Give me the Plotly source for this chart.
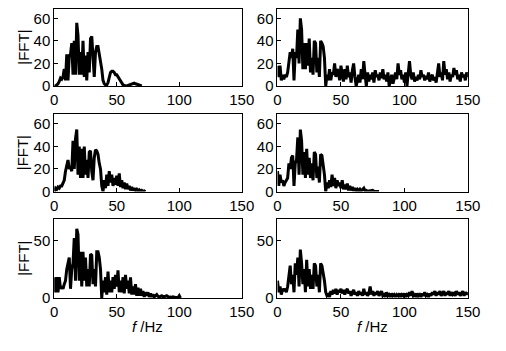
import plotly.graph_objects as go

# Frequency bins (Hz), 1 Hz resolution
FREQ = list(range(151))

# |FFT| spectra (row-major: left, right)
fft_a = [0, 0, 1, 2, 4, 7, 6, 8, 15, 5, 28, 5, 27, 28, 38, 10, 40, 10, 56, 45,
         10, 30, 10, 40, 8, 27, 5, 30, 12, 42, 44, 20, 8, 30, 35, 35, 28, 25, 15, 5,
         2, 1, 1, 3, 8, 12, 13, 13, 12, 10, 10, 8, 6, 4, 2, 1, 0.5, 0.3, 0, 0.5,
         1, 1.5, 2, 2.5, 2.5, 2, 1.5, 1, 0.5, 0, 0]

fft_b = [18, 8, 18, 5, 10, 6, 10, 8, 12, 20, 30, 25, 33, 5, 30, 25, 50, 20, 60, 50,
         15, 38, 15, 38, 18, 42, 12, 25, 10, 40, 38, 12, 25, 8, 40, 38, 35, 25, 0, 10,
         5, 15, 5, 12, 10, 20, 8, 15, 12, 5, 18, 10, 4, 15, 6, 18, 8, 12, 3, 14,
         20, 8, 0, 5, 10, 3, 15, 6, 22, 10, 0, 12, 4, 10, 6, 12, 3, 14, 8, 10,
         5, 12, 7, 15, 6, 10, 4, 12, 0, 5, 10, 2, 8, 12, 6, 20, 10, 14, 6, 10,
         3, 12, 0, 15, 22, 10, 6, 12, 4, 8, 5, 10, 6, 14, 8, 10, 5, 9, 6, 12,
         4, 8, 10, 5, 8, 3, 10, 20, 8, 12, 5, 22, 10, 15, 6, 12, 4, 10, 8, 16,
         10, 14, 6, 10, 4, 12, 8, 10, 5, 12, 8]

fft_c = [0, 3, 2, 4, 3, 5, 5, 8, 10, 18, 25, 28, 20, 22, 18, 45, 20, 47, 55, 15,
         40, 12, 38, 12, 40, 15, 28, 12, 35, 36, 18, 10, 30, 37, 36, 33, 25, 20, 5, 0,
         10, 3, 15, 5, 18, 8, 15, 5, 12, 6, 14, 5, 16, 4, 10, 3, 8, 2, 7, 2,
         5, 1, 4, 1, 3, 1, 2, 0.5, 1.5, 0.3, 1, 0, 0.5, 0]

fft_d = [18, 5, 15, 8, 10, 5, 8, 10, 12, 25, 20, 30, 32, 5, 25, 28, 48, 15, 55, 45,
         15, 35, 12, 38, 15, 30, 12, 25, 10, 35, 33, 12, 22, 8, 33, 32, 25, 15, 0, 8,
         3, 10, 4, 15, 5, 12, 3, 10, 5, 8, 3, 10, 2, 6, 2, 7, 1, 5, 1, 4,
         0.5, 3, 1, 2, 0.5, 2, 0.5, 1.5, 3, 0.5, 1, 0.3, 0.5, 0.3, 0.5, 1, 0.3, 0.3, 0.5, 0.2,
         0]

fft_e = [18, 5, 18, 5, 18, 8, 10, 8, 12, 15, 25, 30, 35, 8, 25, 30, 52, 15, 60, 55,
         15, 40, 10, 40, 15, 35, 10, 25, 10, 38, 37, 12, 25, 10, 40, 40, 35, 25, 0, 15,
         5, 18, 3, 23, 5, 15, 5, 18, 8, 20, 10, 24, 5, 15, 5, 18, 4, 20, 8, 15,
         4, 18, 3, 10, 3, 12, 2, 9, 2, 8, 2, 6, 1, 5, 2, 5, 1, 4, 1, 3,
         1, 2, 3, 1.5, 1, 1.5, 2, 1, 1, 1.5, 2, 1, 0.5, 0.8, 0.5, 1, 0.5, 0.5, 0.5, 0.3,
         2, 0]

fft_f = [15, 5, 10, 3, 8, 6, 8, 5, 10, 18, 28, 12, 20, 5, 30, 20, 35, 10, 42, 30,
         12, 25, 5, 33, 10, 25, 8, 20, 8, 30, 28, 10, 20, 5, 30, 28, 22, 15, 5, 2,
         3, 1, 6, 3, 7, 4, 8, 3, 7, 5, 8, 4, 7, 3, 6, 8, 4, 6, 2, 5,
         7, 3, 5, 2, 6, 3, 5, 2, 8, 3, 5, 2, 4, 10, 3, 6, 2, 5, 3, 6,
         2, 4, 6, 2, 3, 1, 5, 2, 3, 1, 4, 2, 3, 1, 3, 2, 4, 1, 3, 2,
         4, 1, 3, 2, 5, 2, 6, 2, 3, 1, 4, 2, 3, 1, 4, 2, 5, 2, 3, 1,
         4, 2, 5, 3, 6, 2, 5, 3, 6, 2, 4, 6, 2, 5, 3, 6, 2, 5, 3, 4,
         2, 6, 3, 5, 2, 4, 6, 2, 5, 3, 5]

SERIES = [fft_a, fft_b, fft_c, fft_d, fft_e, fft_f]

X_TICKS = [0, 50, 100, 150]
Y_TICKS_TOP = [0, 20, 40, 60]
Y_TICKS_BOTTOM = [0, 50]

W, H = 506, 351
col_px = [(52, 246), (283, 480)]
row_px = [(9, 88), (117, 196), (224, 305)]

FONT = "Liberation Sans, Arial, sans-serif"
FS = 15

fig = go.Figure()
layout = dict(
    width=W, height=H, margin=dict(l=0, r=0, t=0, b=0),
    paper_bgcolor="white", plot_bgcolor="white", showlegend=False,
    font=dict(family=FONT, size=FS, color="black"),
)

annotations = []
for i, y in enumerate(SERIES):
    r, c = divmod(i, 2)
    n = i + 1
    xa = "x" if n == 1 else f"x{n}"
    ya = "y" if n == 1 else f"y{n}"
    fig.add_trace(go.Scatter(
        x=FREQ[:len(y)], y=y, mode="lines",
        line=dict(color="black", width=3, shape="linear"),
        xaxis=xa, yaxis=ya, hoverinfo="skip",
    ))
    x0, x1 = col_px[c]
    t, b = row_px[r]
    axis_common = dict(
        showline=True, linecolor="black", linewidth=1, mirror=True,
        ticks="inside", ticklen=4, tickcolor="black", tickwidth=1,
        showgrid=False, zeroline=False, fixedrange=True,
        tickfont=dict(family=FONT, size=FS, color="black"),
    )
    layout["xaxis" if n == 1 else f"xaxis{n}"] = dict(
        axis_common, domain=[x0 / W, x1 / W], range=[0, 150],
        tickvals=X_TICKS, anchor=ya,
    )
    layout["yaxis" if n == 1 else f"yaxis{n}"] = dict(
        axis_common, domain=[1 - b / H, 1 - t / H], range=[0, 68.5],
        tickvals=Y_TICKS_BOTTOM if r == 2 else Y_TICKS_TOP, anchor=xa,
    )
    if c == 0:
        annotations.append(dict(
            text="|FFT|", textangle=-90, x=20 / W, y=1 - (t + b) / 2 / H,
            xref="paper", yref="paper", showarrow=False,
            xanchor="center", yanchor="middle",
            font=dict(family=FONT, size=FS, color="black"),
        ))
    if r == 2:
        annotations.append(dict(
            text="<i>f</i> /Hz", x=(x0 + x1) / 2 / W, y=1 - 334 / H,
            xref="paper", yref="paper", showarrow=False,
            xanchor="center", yanchor="middle",
            font=dict(family=FONT, size=FS, color="black"),
        ))

layout["annotations"] = annotations
fig.update_layout(**layout)
fig.write_html("out.html")
